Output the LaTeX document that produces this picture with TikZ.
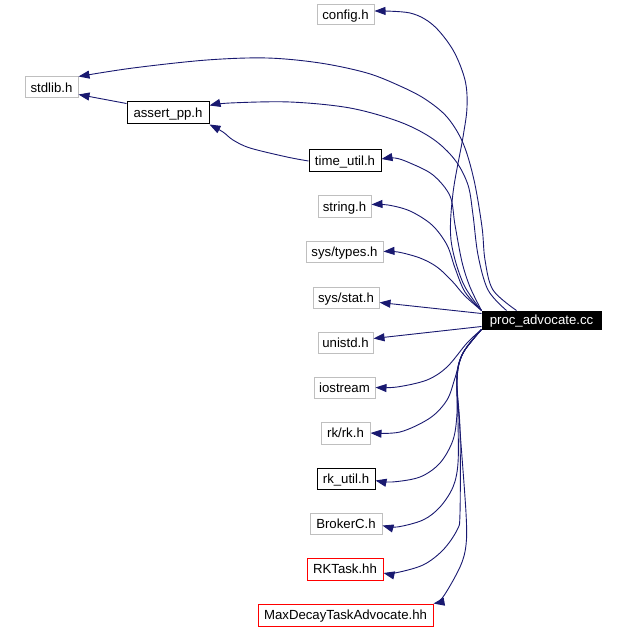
\documentclass[tikz,border=0pt]{standalone}
\usepackage{fontspec}
\setmainfont{Liberation Sans}
\usetikzlibrary{arrows.meta}
\definecolor{edgeblue}{HTML}{191970}
\definecolor{boxgray}{HTML}{BFBFBF}
\definecolor{boxred}{HTML}{FF0000}
\begin{document}
\begin{tikzpicture}[x=1pt,y=-1pt,
  box/.style={rectangle, line width=1pt, inner sep=0pt, text height=11.5pt, text depth=2pt, font=\fontsize{13.2}{15}\selectfont},
  graybox/.style={box, draw=boxgray},
  blackbox/.style={box, draw=black},
  redbox/.style={box, draw=boxred},
  mainbox/.style={box, fill=black, draw=black, text=white},
  edge/.style={draw=edgeblue, line width=0.9pt, -{Triangle[length=11pt,width=8pt]}, fill=none},
  sm/.style={smooth, tension=0.55}]
\useasboundingbox (0,0) rectangle (625,628);

\node[graybox, minimum width=57pt, minimum height=20pt] (config) at (345.5,15) {config.h};
\node[graybox, minimum width=53pt, minimum height=21pt] (stdlib) at (51.5,87.5) {stdlib.h};
\node[blackbox, minimum width=82pt, minimum height=22pt] (assert) at (168,113) {assert\_pp.h};
\node[blackbox, minimum width=72pt, minimum height=22pt] (timeu) at (345,161) {time\_util.h};
\node[graybox, minimum width=53pt, minimum height=21pt] (string) at (344.5,206.5) {string.h};
\node[graybox, minimum width=77pt, minimum height=21pt] (types) at (344.5,251.5) {sys/types.h};
\node[graybox, minimum width=66pt, minimum height=21pt] (stat) at (346,297.5) {sys/stat.h};
\node[mainbox, minimum width=119pt, minimum height=18pt] (proc) at (541.5,320) {proc\_advocate.cc};
\node[graybox, minimum width=55pt, minimum height=21pt] (unistd) at (345.5,342.5) {unistd.h};
\node[graybox, minimum width=61pt, minimum height=21pt] (iostream) at (344.5,387.5) {iostream};
\node[graybox, minimum width=49pt, minimum height=22pt] (rkrk) at (345.5,433) {rk/rk.h};
\node[blackbox, minimum width=58pt, minimum height=21pt] (rkutil) at (346,478.5) {rk\_util.h};
\node[graybox, minimum width=72pt, minimum height=21pt] (broker) at (346,523.5) {BrokerC.h};
\node[redbox, minimum width=76pt, minimum height=22pt] (rktask) at (345,569) {RKTask.hh};
\node[redbox, minimum width=175pt, minimum height=22pt] (maxdecay) at (345.5,615) {MaxDecayTaskAdvocate.hh};

% top group
\draw[edge] plot[sm] coordinates {(proc.north west) (463,283) (451,240) (453,193) (463,137) (467,107) (465,80) (453,50) (433,25) (410,13) ([yshift=4pt]config.east)};
\draw[edge] plot[sm] coordinates {([xshift=35pt]proc.north west) (493,290) (485,260) (482,227) (474,180) (463,143) (447,117) (425,99) (400,86) (367,73) (320,63) (267,58) (207,60) (133,68) (stdlib.north east)};
\draw[edge] plot[sm] coordinates {([xshift=25pt]proc.north west) (488,290) (478,255) (473,215) (468,185) (455,160) (433,139) (400,122) (350,108) (290,102) (230,103) ([yshift=-4pt]assert.north east)};
\draw[edge] plot[sm] coordinates {(proc.north west) (470,287) (462,262) (455,225) (450,196) (433,175) (410,163) (395,158) ([yshift=2pt]timeu.east)};
\draw[edge] plot[sm] coordinates {(proc.north west) (465,292) (455,268) (447,245) (432,225) (410,211) (388,205) ([yshift=2pt]string.east)};
\draw[edge] plot[sm] coordinates {(proc.north west) (465,296) (452,281) (437,267) (420,258) (398,252) (types.east)};
\draw[edge] ([yshift=-3pt]proc.north west) -- ([yshift=-5pt]stat.east);
\draw[edge] ([yshift=3pt]proc.south west) -- ([yshift=4pt]unistd.east);

% bottom group
\draw[edge] plot[sm] coordinates {(proc.south west) (467,343) (447,367) (427,380) (397,387) (iostream.east)};
\draw[edge] plot[sm] coordinates {(proc.south west) (463,353) (455,378) (447,400) (430,418) (400,432) (rkrk.east)};
\draw[edge] plot[sm] coordinates {(proc.south west) (463,353) (457,375) (457,413) (453,440) (440,463) (420,477) (392,482) ([yshift=-2pt]rkutil.east)};
\draw[edge] plot[sm] coordinates {(proc.south west) (463,353) (457,375) (458,420) (458,463) (453,487) (440,507) (423,520) (397,527) ([yshift=-2pt]broker.east)};
\draw[edge] plot[sm] coordinates {(proc.south west) (463,353) (457,380) (460,430) (460,513) (457,530) (443,550) (423,565) (395,573) ([yshift=-4pt]rktask.east)};
\draw[edge] plot[sm] coordinates {(proc.south west) (463,353) (457,380) (460,430) (466,513) (466,545) (460,567) (443,597) (maxdecay.north east)};

% inner edges
\draw[edge] ([yshift=-2pt]assert.north west) -- ([yshift=4pt]stdlib.south east);
\draw[edge] plot[sm] coordinates {(timeu.west) (287,157) (250,148) (233,140) (223,132) (assert.south east)};
\end{tikzpicture}
\end{document}
